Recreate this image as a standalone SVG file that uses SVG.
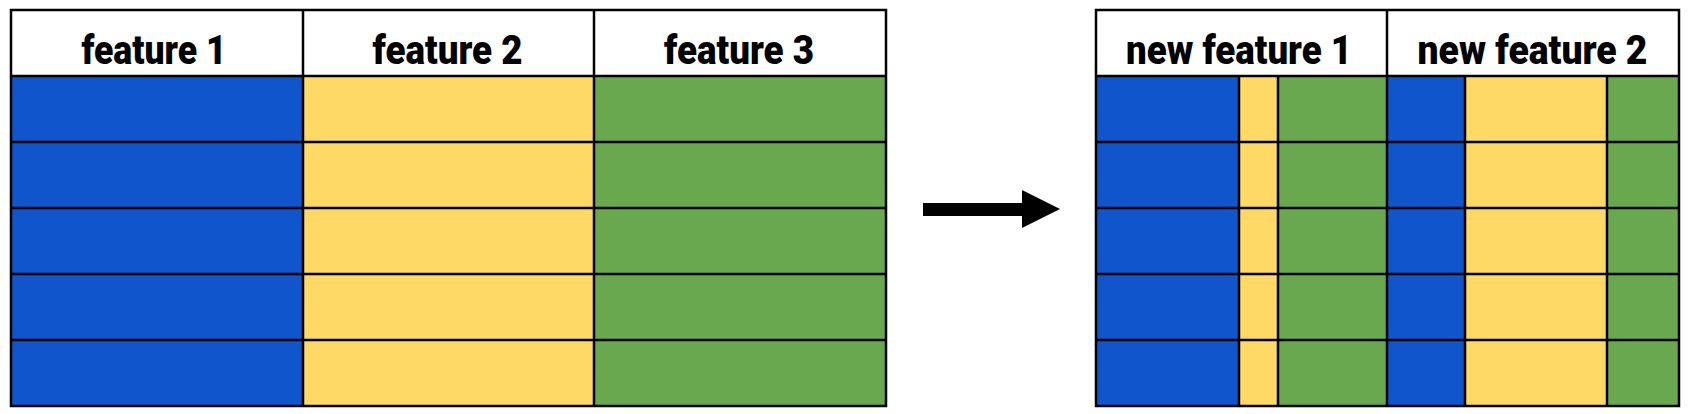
<svg xmlns="http://www.w3.org/2000/svg" width="1693" height="414" viewBox="0 0 1693 414">
<style>
.b{fill:#1155cc}
.y{fill:#ffd966}
.g{fill:#6aa84f}
.w{fill:#ffffff}
.ln{stroke:#000;stroke-width:2.5;fill:none}
.h{font-family:Roboto,"Liberation Sans",sans-serif;font-weight:900;font-size:41px;text-anchor:middle;fill:#000}
</style>
<rect width="1693" height="414" fill="#fff"/>
<g id="table-left">
<rect class="w" x="11" y="10" width="875" height="66"/>
<rect class="b" x="11" y="76" width="292" height="330"/>
<rect class="y" x="303" y="76" width="291" height="330"/>
<rect class="g" x="594" y="76" width="292" height="330"/>
<path class="ln" d="M11 76H886M11 142H886M11 208H886M11 274H886M11 340H886M303 10V406M594 10V406"/>
<rect class="ln" x="11" y="10" width="875" height="396"/>
<text class="h" x="154" y="64" textLength="145" lengthAdjust="spacingAndGlyphs">feature 1</text>
<text class="h" x="447.5" y="64" textLength="150" lengthAdjust="spacingAndGlyphs">feature 2</text>
<text class="h" x="739" y="64" textLength="150" lengthAdjust="spacingAndGlyphs">feature 3</text>
</g>
<g id="connectors">
<path d="M923 203H1022V190L1060 209L1022 228V216H923Z" fill="#000"/>
</g>
<g id="table-right">
<rect class="w" x="1096" y="10" width="583" height="66"/>
<rect class="b" x="1096" y="76" width="143" height="330"/>
<rect class="y" x="1239" y="76" width="39" height="330"/>
<rect class="g" x="1278" y="76" width="109" height="330"/>
<rect class="b" x="1387" y="76" width="78" height="330"/>
<rect class="y" x="1465" y="76" width="142" height="330"/>
<rect class="g" x="1607" y="76" width="72" height="330"/>
<path class="ln" d="M1096 76H1679M1096 142H1679M1096 208H1679M1096 274H1679M1096 340H1679M1387 10V406M1239 76V406M1278 76V406M1465 76V406M1607 76V406"/>
<rect class="ln" x="1096" y="10" width="583" height="396"/>
<text class="h" x="1239" y="64" textLength="226" lengthAdjust="spacingAndGlyphs">new feature 1</text>
<text class="h" x="1532.5" y="64" textLength="230" lengthAdjust="spacingAndGlyphs">new feature 2</text>
</g>
</svg>
